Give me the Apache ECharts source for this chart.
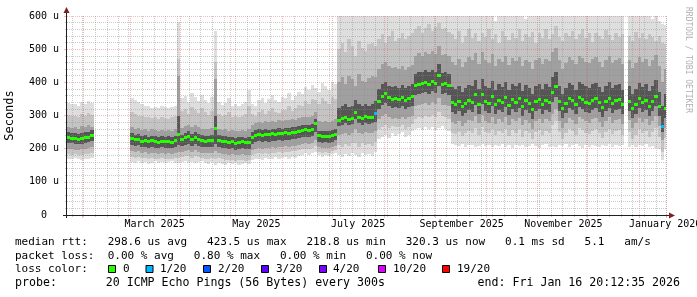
<!DOCTYPE html>
<html>
<head>
<meta charset="utf-8">
<script src="https://cdn.jsdelivr.net/npm/echarts@6/dist/echarts.min.js"></script>
<style>
html, body { margin: 0; padding: 0; background: #fff; }
#chart { width: 697px; height: 297px; }
</style>
</head>
<body>
<div id="chart"></div>
<script>
// time range: one category per day, samples every 2 days
var startUtc = Date.UTC(2025, 0, 23);
var dayCount = 359;
var sampleDays = 2;
var dayMs = 86400000;

var monthNames = ['January', 'February', 'March', 'April', 'May', 'June', 'July',
                  'August', 'September', 'October', 'November', 'December'];
var labelMonths = [0, 2, 4, 6, 8, 10];

// median rtt (us), one value per 2-day sample
var median = [
  234,233,231,230,232,234,236,240,
  null,null,null,null,null,null,null,null,null,null,null,
  232,228,230,224,226,222,225,223,221,224,222,223,221,225,244,228,234,238,229,236,
  230,226,224,225,227,262,226,223,224,221,222,218,220,222,219,220,236,242,244,241,
  245,243,246,244,248,246,249,248,251,250,254,256,258,256,260,276,240,238,239,238,
  241,245,
  287,292,296,290,293,312,296,291,298,294,296,308,
  345,360,368,356,350,352,349,356,346,354,358,
  393,396,398,402,396,404,399,423,395,397,392,
  340,335,344,328,338,346,342,364,336,366, 344,338,360,334,348,340,356,332,350,342,
  352,330,346,338,320,344,350,336,348,342, 372,390,344,322,338,352,346,334,356,350,
  342,338,348,352,340,326,344,354,338,346, 350,334,null,345,322,336,352,340,348,330,
  344,360,328,268,322
];

// samples with packet loss: [sample index, lost pings]
var lossAt = [[92, 1], [178, 1]];

// smoke: outer to inner ping spread (us)
var hi1 = [
  338,334,336,330,342,335,345,338,
  null,null,null,null,null,null,null,null,null,null,null,
  352,348,340,336,328,330,324,326,322,328,325,322,326,330, 582,
  352,360,340,368,356,344,362,348,338,355, 556,
  340,332,338,352,330,336,328,334,342,376,
  336,330,346,354,338,350,362,348,340,356,352,368,348,358,372,364,386,376,392,384,
  372,398,388,376,402,396,
  600,600,600,600,600,600,600,600,600,600,600,600,
  600,600,600,600,600,600,600,600,600,600,600,
  600,600,600,600,600,600,600,600,600,600,600,
  600,600,600,600,600,600,600,600,600,600, 600,600,600,585,600,600,600,600,600,600,
  600,600,590,600,600,600,600,600,600,600, 600,600,600,600,600,600,600,600,600,600,
  600,600,600,600,600,600,600,600,600,600, 600,600,null,600,600,600,600,600,600,600,
  590,600,585,575,572
];
var hi2 = [
  302,298,300,296,305,300,308,302,
  null,null,null,null,null,null,null,null,null,null,null,
  312,306,300,298,294,296,292,294,290,296,292,290,294,298, 470,
  314,320,306,326,316,308,322,310,302,314, 460,
  304,298,302,312,296,300,294,298,304,330,
  305,300,312,318,306,314,324,312,308,318,316,328,314,322,332,328,344,336,350,346,
  334,352,344,336,356,350,
  500,520,490,530,510,480,525,505,495,515,520,510,
  530,545,520,540,555,525,535,548,530,540,550,
  560,570,548,565,575,555,568,580,560,565,552,
  545,530,555,520,540,560,535,548,525,550, 538,562,530,545,520,555,540,528,550,535,
  560,525,545,538,552,520,548,535,560,530, 545,570,538,525,550,540,555,530,545,560,
  535,548,522,550,540,530,558,542,528,550, 538,545,null,540,525,552,535,548,530,545,
  538,525,540,520,515
];
var hi3 = [
  266,262,264,260,268,264,270,266,
  null,null,null,null,null,null,null,null,null,null,null,
  264,260,262,256,258,254,258,256,252,257,254,255,253,258, 420,
  262,268,272,264,270,264,260,258,259,262, 410,
  260,256,258,254,255,252,254,256,254,258,
  272,278,280,276,282,279,283,281,285,283,286,285,288,287,292,294,296,294,298,312,
  282,280,282,280,284,290,
  400,415,395,420,410,390,425,405,400,412,418,415,
  440,455,462,448,442,445,440,450,438,446,452,
  480,488,478,492,484,494,486,510,482,486,478,
  460,452,470,445,462,475,466,488,455,490, 468,458,484,450,470,462,478,452,474,464,
  476,448,468,460,440,466,474,456,470,464, 492,505,466,440,458,476,468,454,480,472,
  462,458,470,476,462,446,466,478,458,468, 474,454,null,468,442,458,476,462,470,450,
  466,482,448,400,440
];
var hi4 = [
  250,248,246,245,247,249,251,255,
  null,null,null,null,null,null,null,null,null,null,null,
  246,242,244,238,240,236,239,237,235,238,236,237,235,239, 300,
  242,248,252,243,250,244,240,238,239,241, 300,
  240,237,238,235,236,232,234,236,233,234,
  250,256,258,255,259,257,260,258,262,260,263,262,265,264,268,270,272,270,274,290,
  254,252,253,252,255,259,
  322,328,334,326,330,348,334,328,336,330,334,345,
  380,395,402,390,385,388,384,392,382,390,394,
  426,430,432,436,430,438,432,455,428,430,426,
  385,380,390,372,383,392,388,408,380,410, 390,382,405,378,394,386,402,376,396,388,
  398,374,392,382,364,390,396,380,394,386, 416,432,390,366,382,398,392,378,402,396,
  388,382,394,398,386,370,390,400,382,392, 396,378,null,390,366,380,398,386,394,374,
  390,406,372,330,366
];
var lo4 = [
  218,216,214,213,215,217,219,222,
  null,null,null,null,null,null,null,null,null,null,null,
  212,208,210,204,206,202,205,203,201,204,202,203,201,205, 210,
  208,212,214,207,213,208,205,204,204,206, 215,
  205,202,203,200,201,197,199,201,198,199,
  215,220,222,219,223,221,224,222,226,224,227,226,229,228,232,234,236,234,238,250,
  220,218,219,218,221,225,
  268,272,276,270,273,290,276,271,278,274,276,280,
  320,332,338,328,322,325,322,328,320,326,330,
  362,366,368,372,366,374,369,390,365,367,362,
  310,305,314,298,308,316,312,332,306,334, 314,308,328,304,318,310,326,302,320,312,
  322,300,316,308,290,314,320,306,318,312, 340,355,314,292,308,322,316,304,326,320,
  312,308,318,322,310,296,314,324,308,316, 320,304,null,315,292,306,322,310,318,300,
  314,330,298,250,292
];
var lo3 = [
  200,198,197,196,198,199,201,204,
  null,null,null,null,null,null,null,null,null,null,null,
  194,190,192,187,189,185,188,186,184,187,185,186,184,188, 190,
  190,194,196,189,195,190,187,186,186,188, 192,
  187,184,185,182,183,180,182,183,181,182,
  196,200,202,199,203,201,204,202,206,204,207,206,209,208,212,214,216,214,218,226,
  204,202,203,202,205,208,
  240,244,248,242,246,258,248,243,250,246,248,252,
  288,298,304,294,290,292,290,296,288,294,298,
  328,332,334,338,332,340,335,352,331,333,328,
  280,275,284,268,278,286,282,300,276,302, 284,278,296,274,288,280,294,272,290,282,
  292,270,286,278,260,284,290,276,288,282, 306,320,284,262,278,292,286,274,296,290,
  282,278,288,292,280,266,284,294,278,286, 290,274,null,285,262,276,292,280,288,270,
  284,298,268,225,262
];
var lo2 = [
  184,182,184,181,182,184,185,188,
  null,null,null,null,null,null,null,null,null,null,null,
  176,172,175,171,173,169,172,170,168,171,169,170,168,172, 172,
  174,177,179,173,178,174,171,170,170,172, 170,
  171,168,167,165,166,164,165,167,164,166,
  180,184,186,183,187,185,188,186,190,188,191,190,193,192,196,198,200,198,202,208,
  190,188,190,188,192,196,
  210,206,214,208,216,218,206,218,212,214,208,220,
  258,266,272,262,268,264,266,272,260,266,274,
  290,295,292,300,294,302,296,310,298,294,290,
  248,244,250,238,246,252,248,262,242,264, 250,246,260,240,254,248,258,238,256,248,
  258,236,252,246,228,250,256,242,254,248, 270,284,250,230,246,258,252,240,262,256,
  248,244,254,258,246,232,250,260,244,252, 256,240,null,250,230,242,258,246,254,236,
  250,262,236,190,232
];
var lo1 = [
  170,168,172,168,166,170,168,172,
  null,null,null,null,null,null,null,null,null,null,null,
  160,156,162,158,160,155,158,162,157,160,156,159,162,158,156,160,163,158,161,157,
  160,162,158,155,160,150,158,154,152,156,153,157,152,155,158,154,165,168,170,166,
  172,168,170,174,169,172,175,170,176,173,178,182,186,180,188,190,180,176,182,178,
  184,186,
  180,176,184,178,186,182,175,188,180,184,178,190,
  228,236,240,232,246,238,244,250,236,242,252,
  258,262,255,266,260,264,256,262,268,258,254,
  215,212,208,214,206,210,212,204,209,213, 207,211,205,212,208,214,206,210,203,211,
  208,212,205,209,214,207,202,210,213,206, 209,204,211,207,213,205,210,214,208,203,
  211,206,212,209,204,210,207,213,205,211, 208,212,null,206,210,204,211,207,213,205,
  209,203,198,165,200
];

var smokeColors = ['#dedede', '#c4c4c4', '#a0a0a0', '#565656'];
var lossColors = {0: '#26ff00', 1: '#00b8ff', 2: '#0059ff', 3: '#5e00ff', 4: '#7e00ff', 10: '#dd00ff', 19: '#ff0000'};
var lossLegend = [
  ['0', '#26ff00', 108.5, 123],
  ['1/20', '#00b8ff', 146, 160],
  ['2/20', '#0059ff', 203.5, 218],
  ['3/20', '#5e00ff', 261.5, 276],
  ['4/20', '#7e00ff', 319.5, 333],
  ['10/20', '#dd00ff', 378.5, 393],
  ['19/20', '#ff0000', 442.5, 457]
];
var legendLines = [
  'median rtt:   298.6 us avg   423.5 us max   218.8 us min   320.3 us now   0.1 ms sd   5.1   am/s',
  'packet loss:  0.00 % avg   0.80 % max   0.00 % min   0.00 % now',
  'loss color:'
];
var probeText = 'probe:       20 ICMP Echo Pings (56 Bytes) every 300s';
var endText = 'end: Fri Jan 16 20:12:35 2026';

var days = [];
for (var d = 0; d < dayCount; d++) {
    days.push(new Date(startUtc + d * dayMs).toISOString().slice(0, 10));
}

var lossMap = {};
lossAt.forEach(function (l) { lossMap[l[0]] = l[1]; });

function isMonthStart(idx, v) {
    return v.slice(8) === '01';
}
function isWeekStart(idx, v) {
    var dt = new Date(v + 'T00:00:00Z');
    return dt.getUTCDay() === 0 && v.slice(8) !== '01';
}
function isLabelDay(idx, v) {
    var dt = new Date(v + 'T00:00:00Z');
    return dt.getUTCDate() === 16 && labelMonths.indexOf(dt.getUTCMonth()) >= 0;
}
function monthLabel(v) {
    var dt = new Date(v + 'T00:00:00Z');
    return monthNames[dt.getUTCMonth()] + ' ' + dt.getUTCFullYear();
}

function colRect(api, t, top, bottom) {
    var a = api.coord([t, top]);
    var b = api.coord([Math.min(t + sampleDays, dayCount), bottom]);
    var x0 = Math.round(a[0]), x1 = Math.round(b[0]);
    return {x: x0, width: x1 - x0, y0: a[1], y1: b[1]};
}

function bandSeries(lo, hi, color) {
    var data = [];
    for (var i = 0; i < lo.length; i++) {
        if (lo[i] == null || hi[i] == null) continue;
        data.push([i * sampleDays, lo[i], hi[i]]);
    }
    return {
        type: 'custom',
        xAxisIndex: 0,
        yAxisIndex: 0,
        z: 1,
        silent: true,
        clip: true,
        data: data,
        renderItem: function (params, api) {
            var r = colRect(api, api.value(0), api.value(2), api.value(1));
            var y0 = Math.round(r.y0), y1 = Math.round(r.y1);
            return {
                type: 'rect',
                shape: {x: r.x, y: y0, width: r.width, height: y1 - y0},
                style: {fill: color}
            };
        }
    };
}

var medianData = [];
for (var i = 0; i < median.length; i++) {
    if (median[i] == null) continue;
    medianData.push([i * sampleDays, median[i], lossMap[i] || 0]);
}

var gridMinor = 'rgba(140,140,140,0.45)';
var gridMajor = 'rgba(222,79,79,0.38)';
var mono = 'DejaVu Sans Mono';

var graphics = [
    {type: 'line', shape: {x1: 66.5, y1: 218, x2: 66.5, y2: 12}, style: {stroke: '#1f1f1f', lineWidth: 1}, z: 10},
    {type: 'polygon', shape: {points: [[63.5, 13], [69.5, 13], [66.5, 7]]}, style: {fill: '#801f1f'}, z: 10},
    {type: 'line', shape: {x1: 63, y1: 215.5, x2: 670, y2: 215.5}, style: {stroke: '#1f1f1f', lineWidth: 1}, z: 10},
    {type: 'polygon', shape: {points: [[669, 212.5], [669, 218.5], [675, 215.5]]}, style: {fill: '#801f1f'}, z: 10},
    {type: 'text', x: 688, y: 60, rotation: -Math.PI / 2,
     style: {text: 'RRDTOOL / TOBI OETIKER', x: 0, y: 0, font: '8px "' + mono + '"', fill: '#b0b0b0',
             align: 'center', verticalAlign: 'middle', textAlign: 'center', textVerticalAlign: 'middle'}}
];
var lineY = [242, 256, 269.5, 283];
legendLines.forEach(function (s, k) {
    graphics.push({type: 'text', style: {text: s, x: 15, y: lineY[k], font: '11px "' + mono + '"', fill: '#000',
        align: 'left', verticalAlign: 'middle', textAlign: 'left', textVerticalAlign: 'middle'}});
});
graphics.push({type: 'text', style: {text: probeText, x: 15, y: lineY[3], font: '11.6px "' + mono + '"', fill: '#000',
    align: 'left', verticalAlign: 'middle', textAlign: 'left', textVerticalAlign: 'middle'}});
graphics.push({type: 'text', style: {text: endText, x: 680, y: lineY[3], font: '11.6px "' + mono + '"', fill: '#000',
    align: 'right', verticalAlign: 'middle', textAlign: 'right', textVerticalAlign: 'middle'}});
lossLegend.forEach(function (l) {
    graphics.push({type: 'rect', shape: {x: l[2], y: 265.5, width: 7, height: 7},
        style: {fill: l[1], stroke: '#000', lineWidth: 1}});
    graphics.push({type: 'text', style: {text: l[0], x: l[3], y: lineY[2], font: '11px "' + mono + '"', fill: '#000',
        align: 'left', verticalAlign: 'middle', textAlign: 'left', textVerticalAlign: 'middle'}});
});

var myChart = echarts.init(document.getElementById('chart'), null, {renderer: 'canvas'});
var option = {
    animation: false,
    backgroundColor: '#ffffff',
    grid: {left: 67, top: 16, width: 599, bottom: 82, containLabel: false, outerBoundsMode: 'none'},
    xAxis: [
        {type: 'value', min: 0, max: dayCount, show: false},
        {
            type: 'category', data: days, boundaryGap: true, position: 'bottom', z: 3,
            axisLine: {show: false},
            axisTick: {show: true, length: 3, interval: isMonthStart, lineStyle: {color: gridMajor}},
            axisLabel: {interval: isLabelDay, formatter: monthLabel, fontFamily: mono, fontSize: 10,
                        color: '#000', margin: 4, hideOverlap: false},
            splitLine: {show: true, interval: isMonthStart, lineStyle: {color: gridMajor, width: 1, type: [1, 1]}}
        },
        {
            type: 'category', data: days, boundaryGap: true, position: 'bottom', z: 3,
            axisLine: {show: false},
            axisLabel: {show: false},
            axisTick: {show: true, length: 2, interval: isWeekStart, lineStyle: {color: gridMinor}},
            splitLine: {show: true, interval: isWeekStart, lineStyle: {color: gridMinor, width: 1, type: [1, 1]}}
        }
    ],
    yAxis: {
        type: 'value', min: 0, max: 600, interval: 100, z: 3,
        name: 'Seconds', nameLocation: 'middle', nameGap: 51,
        nameTextStyle: {fontFamily: mono, fontSize: 12, color: '#000'},
        axisLine: {show: false},
        axisTick: {show: true, length: 3, lineStyle: {color: gridMajor}},
        minorTick: {show: true, splitNumber: 5, length: 2, lineStyle: {color: gridMinor}},
        axisLabel: {
            fontFamily: mono, fontSize: 10, color: '#000', margin: 8,
            formatter: function (v) { return v === 0 ? '0  ' : v + ' u'; }
        },
        splitLine: {show: true, lineStyle: {color: gridMajor, width: 1, type: [1, 1]}},
        minorSplitLine: {show: true, lineStyle: {color: gridMinor, width: 1, type: [1, 1]}}
    },
    series: [
        bandSeries(lo1, hi1, smokeColors[0]),
        bandSeries(lo2, hi2, smokeColors[1]),
        bandSeries(lo3, hi3, smokeColors[2]),
        bandSeries(lo4, hi4, smokeColors[3]),
        {
            type: 'custom',
            xAxisIndex: 0,
            yAxisIndex: 0,
            z: 6,
            silent: true,
            clip: true,
            data: medianData,
            renderItem: function (params, api) {
                var r = colRect(api, api.value(0), api.value(1), api.value(1));
                var yc = Math.round(r.y0);
                return {
                    type: 'rect',
                    shape: {x: r.x, y: yc - 1, width: r.width, height: 3},
                    style: {fill: lossColors[api.value(2)]}
                };
            }
        }
    ],
    graphic: graphics
};
myChart.setOption(option);
</script>
</body>
</html>
